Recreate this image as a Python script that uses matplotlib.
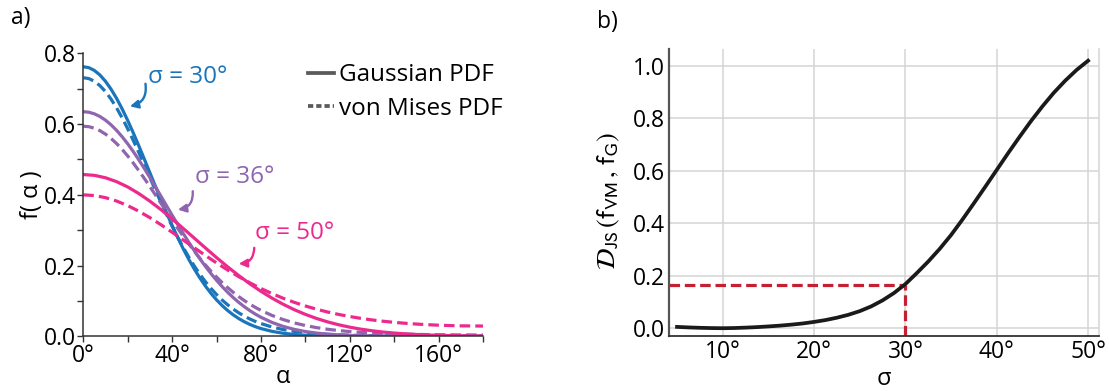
import matplotlib
matplotlib.use("Agg")
import matplotlib.pyplot as plt
from matplotlib.lines import Line2D

plt.rcParams['font.family'] = ['Open Sans', 'DejaVu Sans']
plt.rcParams['mathtext.fontset'] = 'stixsans'

# --- panel a) data: PDFs (alpha in degrees) ---
# finer sampling for the two narrow curves (sigma = 30, 36)
alpha_fine = [0, 2.5, 5, 7.5, 10, 12.5, 15, 17.5, 20, 22.5, 25, 27.5, 30, 32.5, 35, 37.5,
              40, 42.5, 45, 47.5, 50, 52.5, 55, 57.5, 60, 62.5, 65, 67.5, 70, 72.5, 75,
              77.5, 80, 85, 90, 95, 100, 105, 110, 115, 120, 125, 130, 135, 140, 145,
              150, 155, 160, 165, 170, 175, 180]
gauss_30 = [0.762, 0.7594, 0.7515, 0.7386, 0.7208, 0.6986, 0.6725, 0.6428, 0.6101, 0.5752,
            0.5385, 0.5006, 0.4622, 0.4237, 0.3858, 0.3489, 0.3133, 0.2794, 0.2474, 0.2176,
            0.1900, 0.1648, 0.1420, 0.1214, 0.1031, 0.0870, 0.0729, 0.0606, 0.0501, 0.0411,
            0.0335, 0.0271, 0.0218, 0.0138, 0.0085, 0.0051, 0.0029, 0.0017, 0.0009, 0.0005,
            0.0003, 0.0001, 0.0001, 0, 0, 0, 0, 0, 0, 0, 0, 0, 0]
vm_30 = [0.7310, 0.7285, 0.7209, 0.7085, 0.6916, 0.6705, 0.6456, 0.6174, 0.5867, 0.5538,
         0.5194, 0.4841, 0.4484, 0.4129, 0.3779, 0.3440, 0.3114, 0.2804, 0.2512, 0.2239,
         0.1986, 0.1754, 0.1543, 0.1352, 0.1180, 0.1026, 0.0890, 0.0769, 0.0663, 0.0570,
         0.0489, 0.0419, 0.0359, 0.0262, 0.0190, 0.0139, 0.0101, 0.0074, 0.0055, 0.0041,
         0.0031, 0.0023, 0.0018, 0.0014, 0.0012, 0.0010, 0.0008, 0.0007, 0.0006, 0.0006,
         0.0005, 0.0005, 0.0005]
gauss_36 = [0.6349, 0.6334, 0.6288, 0.6213, 0.6109, 0.5978, 0.5821, 0.5641, 0.5441, 0.5223,
            0.4989, 0.4742, 0.4487, 0.4224, 0.3958, 0.3690, 0.3425, 0.3163, 0.2907, 0.2659,
            0.2420, 0.2192, 0.1976, 0.1773, 0.1583, 0.1407, 0.1244, 0.1095, 0.0959, 0.0836,
            0.0725, 0.0626, 0.0537, 0.0391, 0.0279, 0.0195, 0.0134, 0.0090, 0.0060, 0.0039,
            0.0025, 0.0015, 0.0009, 0.0006, 0.0003, 0.0002, 0.0001, 0.0001, 0, 0, 0, 0, 0]
vm_36 = [0.5939, 0.5925, 0.5882, 0.5812, 0.5715, 0.5593, 0.5448, 0.5282, 0.5098, 0.4898,
         0.4684, 0.4461, 0.4230, 0.3994, 0.3756, 0.3519, 0.3284, 0.3053, 0.2828, 0.2611,
         0.2403, 0.2205, 0.2017, 0.1840, 0.1674, 0.1519, 0.1376, 0.1243, 0.1122, 0.1010,
         0.0909, 0.0816, 0.0732, 0.0588, 0.0472, 0.0378, 0.0304, 0.0245, 0.0198, 0.0162,
         0.0133, 0.0110, 0.0093, 0.0079, 0.0068, 0.0059, 0.0053, 0.0048, 0.0044, 0.0041,
         0.0039, 0.0038, 0.0037]
# the wide curve (sigma = 50) on a 5 degree grid
alpha_deg = [0, 5, 10, 15, 20, 25, 30, 35, 40, 45, 50, 55, 60, 65, 70, 75, 80, 85, 90,
             95, 100, 105, 110, 115, 120, 125, 130, 135, 140, 145, 150, 155, 160, 165,
             170, 175, 180]
gauss_50 = [0.4572, 0.4549, 0.4481, 0.4371, 0.4221, 0.4035, 0.3819, 0.3579, 0.3320, 0.3049,
            0.2773, 0.2497, 0.2225, 0.1964, 0.1716, 0.1484, 0.1271, 0.1078, 0.0905, 0.0752,
            0.0619, 0.0504, 0.0407, 0.0325, 0.0257, 0.0201, 0.0156, 0.0119, 0.0091, 0.0068,
            0.0051, 0.0037, 0.0027, 0.0020, 0.0014, 0.0010, 0.0007]
vm_50 = [0.3998, 0.3978, 0.3919, 0.3823, 0.3694, 0.3535, 0.3353, 0.3153, 0.2941, 0.2722,
         0.2501, 0.2284, 0.2074, 0.1873, 0.1685, 0.1511, 0.1351, 0.1206, 0.1075, 0.0959,
         0.0856, 0.0766, 0.0686, 0.0617, 0.0558, 0.0506, 0.0462, 0.0425, 0.0393, 0.0367,
         0.0345, 0.0327, 0.0313, 0.0302, 0.0295, 0.0291, 0.0289]
sigma_labels = ["σ = 30°", "σ = 36°", "σ = 50°"]
alpha_ticks = [0, 40, 80, 120, 160]

# --- panel b) data: JS divergence vs sigma ---
sigma_deg = [5, 6.25, 7.5, 8.75, 10, 11.25, 12.5, 13.75, 15, 16.25, 17.5, 18.75, 20,
             21.25, 22.5, 23.75, 25, 26.25, 27.5, 28.75, 30, 31.25, 32.5, 33.75, 35,
             36.25, 37.5, 38.75, 40, 41.25, 42.5, 43.75, 45, 46.25, 47.5, 48.75, 50]
djs = [0.005, 0.003, 0.0015, 0.0005, 0.0, 0.0007, 0.0022, 0.0042, 0.0068, 0.0098, 0.0135,
       0.018, 0.024, 0.031, 0.040, 0.051, 0.065, 0.083, 0.106, 0.134, 0.168, 0.210, 0.254,
       0.302, 0.355, 0.414, 0.476, 0.539, 0.603, 0.667, 0.729, 0.789, 0.845, 0.897, 0.943,
       0.984, 1.019]
sigma_mark = 30
djs_mark = 0.165
sigma_ticks = [10, 20, 30, 40, 50]

blue = '#1b75bb'
purple = '#8f65b0'
pink = '#ec2a8e'
red = '#c41f33'
lw = 2.3
dash = (0, (3.3, 1.6))
fs = 16.5

fig = plt.figure(figsize=(11.09, 3.91), dpi=100)

# ---------------- panel a ----------------
ax = fig.add_axes([0.0751, 0.1400, 0.3604, 0.7237])
for x, g, v, c in [(alpha_fine, gauss_30, vm_30, blue),
                   (alpha_fine, gauss_36, vm_36, purple),
                   (alpha_deg, gauss_50, vm_50, pink)]:
    ax.plot(x, g, color=c, lw=lw, solid_joinstyle='round')
    ax.plot(x, v, color=c, lw=lw, linestyle=dash, dash_joinstyle='round')
ax.set_xlim(0, 180)
ax.set_ylim(0, 0.8)
ax.set_xticks(alpha_ticks)
ax.set_xticklabels([f"{t}°" for t in alpha_ticks])
ax.set_xticks([20, 60, 100, 140, 180], minor=True)
ax.set_yticks([0, 0.2, 0.4, 0.6, 0.8])
ax.set_yticklabels(["0.0", "0.2", "0.4", "0.6", "0.8"])
ax.set_yticks([0.1, 0.3, 0.5, 0.7], minor=True)
ax.tick_params(which='both', labelsize=fs, length=4, width=1, color='#333333', pad=1.5)
for s in ['top', 'right']:
    ax.spines[s].set_visible(False)
for s in ['left', 'bottom']:
    ax.spines[s].set_color('#333333')
    ax.spines[s].set_linewidth(1.1)
ax.set_xlabel("α", fontsize=17, labelpad=-2)
ax.set_ylabel("f( α )", fontsize=17, labelpad=0)

# sigma annotations with curved arrows
annot = [(sigma_labels[0], blue, (29.0, 0.733), (28.0, 0.714), (21.0, 0.650)),
         (sigma_labels[1], purple, (50.3, 0.451), (49.3, 0.410), (42.6, 0.358)),
         (sigma_labels[2], pink, (77.3, 0.292), (77.0, 0.250), (70.0, 0.205))]
for txt, c, tpos, start, tip in annot:
    ax.text(tpos[0], tpos[1], txt, color=c, fontsize=17.5, ha='left', va='center')
    ax.annotate('', xy=tip, xytext=start,
                arrowprops=dict(arrowstyle='-|>', color=c, lw=1.7, mutation_scale=12,
                                shrinkA=0, shrinkB=0, connectionstyle='arc3,rad=-0.45'))

handles = [Line2D([], [], color='#5a5a5a', lw=lw + 0.4),
           Line2D([], [], color='#5a5a5a', lw=lw + 0.4, linestyle=(0, (1.4, 0.8)))]
ax.legend(handles, ["Gaussian PDF", "von Mises PDF"], loc='upper left',
          bbox_to_anchor=(0.537, 1.0), frameon=False, fontsize=17.5,
          handlelength=1.1, handletextpad=0.2, labelspacing=0.4, borderaxespad=0)

fig.text(0.010, 0.955, "a)", fontsize=fs, va='center')

# ---------------- panel b ----------------
bx = fig.add_axes([0.6035, 0.1414, 0.3875, 0.7325])
bx.plot(sigma_deg, djs, color='#1a1a1a', lw=2.7, zorder=3, solid_joinstyle='round')
bx.plot([4.15, sigma_mark], [djs_mark, djs_mark], color=red, lw=2.3,
        linestyle=(0, (3.3, 1.5)), zorder=2)
bx.plot([sigma_mark, sigma_mark], [-0.03, djs_mark], color=red, lw=2.3,
        linestyle=(0, (3.3, 1.5)), zorder=2)
bx.set_xlim(4.15, 51.2)
bx.set_ylim(-0.0286, 1.0625)
bx.set_xticks(sigma_ticks)
bx.set_xticklabels([f"{t}°" for t in sigma_ticks])
bx.set_yticks([0, 0.2, 0.4, 0.6, 0.8, 1.0])
bx.set_yticklabels(["0.0", "0.2", "0.4", "0.6", "0.8", "1.0"])
bx.grid(True, color='#d4d4d4', lw=1.1)
bx.set_axisbelow(True)
bx.tick_params(labelsize=fs, length=0, pad=3)
bx.spines['top'].set_visible(False)
bx.spines['right'].set_color('#d4d4d4')
bx.spines['right'].set_linewidth(1.1)
bx.spines['left'].set_color('#555555')
bx.spines['left'].set_linewidth(1.6)
bx.spines['bottom'].set_color('#333333')
bx.spines['bottom'].set_linewidth(1.3)
bx.set_xlabel("σ", fontsize=17, labelpad=2)
bx.set_ylabel(r"$\mathcal{D}_{\mathrm{JS}}\,(\mathrm{f}_{\mathrm{VM}}\,,\,\mathrm{f}_{\mathrm{G}})$",
              fontsize=19)
bx.yaxis.set_label_coords(-0.11, 0.47)

fig.text(0.538, 0.945, "b)", fontsize=fs, va='center')

fig.savefig("out.png", dpi=100)
